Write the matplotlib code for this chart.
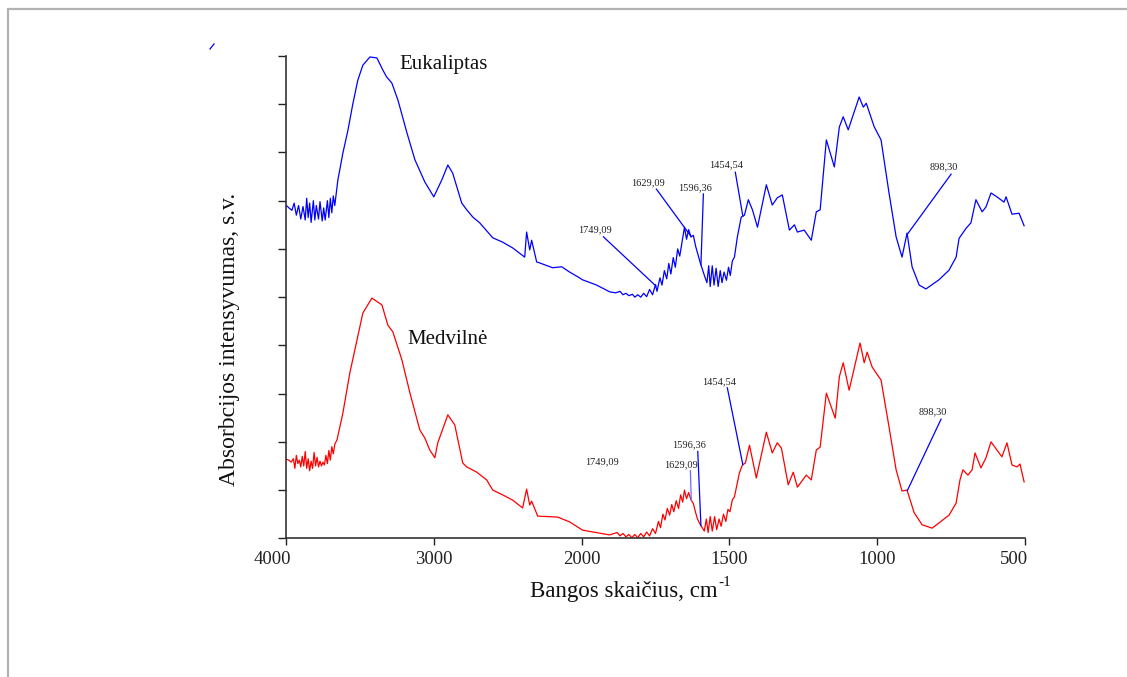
import numpy as np
import matplotlib
matplotlib.use("Agg")
import matplotlib.pyplot as plt
import matplotlib.transforms as mtransforms
from matplotlib.lines import Line2D
from matplotlib.patches import Rectangle

plt.rcParams['font.family'] = ['Liberation Serif', 'DejaVu Serif']

# ---------------- data ----------------
eu_wn = [4000, 3980, 3960, 3945, 3930, 3915, 3900, 3885, 3870, 3860, 3850, 3840, 3830, 3815,
         3805, 3795, 3780, 3770, 3755, 3745, 3735, 3720, 3710, 3700, 3690, 3680, 3670,
         3649, 3615, 3581, 3547, 3514, 3480, 3432, 3385, 3345, 3320, 3284, 3243, 3182, 3128,
         3061, 3000, 2946, 2905, 2872, 2811, 2777, 2736, 2689, 2601, 2534, 2466, 2385, 2372,
         2351, 2338, 2304, 2284, 2196, 2135, 2081, 2014, 1997, 1949,
         1905, 1885, 1870, 1860, 1850, 1840, 1828, 1820, 1810, 1800, 1790, 1780, 1770, 1760,
         1750, 1745, 1735, 1728, 1720, 1712, 1705, 1698, 1690, 1683, 1675, 1668, 1660, 1652,
         1645, 1638, 1630, 1622, 1614, 1605, 1598, 1590, 1583, 1576, 1570, 1565, 1558, 1552,
         1545, 1538, 1531, 1525, 1518, 1510, 1503, 1497, 1490, 1483,
         1473, 1460, 1449, 1436, 1422, 1405, 1375, 1355, 1338, 1321, 1297, 1280, 1270, 1247,
         1223, 1206, 1193, 1172, 1145, 1128, 1115, 1098, 1061, 1047, 1037, 1010, 987, 960,
         936, 916, 899, 882, 858, 835, 791, 757, 733, 723, 699, 683, 666, 645, 632, 615,
         595, 571, 564, 544, 520, 503]
eu_abs = [6.91, 6.85, 6.80, 6.95, 6.70, 6.90, 6.62, 6.88, 6.60, 7.05, 6.65, 6.95, 6.55, 7.00,
          6.60, 6.90, 6.62, 6.98, 6.58, 6.85, 6.60, 7.00, 6.65, 7.05, 6.75, 7.10, 6.90,
          7.43, 7.99, 8.46, 9.02, 9.50, 9.81, 9.98, 9.96, 9.71, 9.57, 9.44, 9.09, 8.41, 7.85,
          7.39, 7.08, 7.43, 7.74, 7.57, 6.95, 6.81, 6.66, 6.54, 6.23, 6.14, 6.02, 5.83, 6.35,
          5.98, 6.18, 5.73, 5.71, 5.61, 5.63, 5.52, 5.40, 5.36, 5.25,
          5.11, 5.09, 5.12, 5.05, 5.08, 5.03, 5.06, 5.00, 5.05, 5.00, 5.08, 5.01, 5.16, 5.05,
          5.26, 5.12, 5.40, 5.25, 5.55, 5.38, 5.70, 5.48, 5.82, 5.62, 6.00, 5.85, 6.15, 6.45,
          6.20, 6.40, 6.25, 6.28, 6.05, 5.85, 5.70, 5.55, 5.42, 5.30, 5.65, 5.22, 5.65, 5.25,
          5.60, 5.22, 5.55, 5.30, 5.52, 5.35, 5.62, 5.45, 5.75, 5.83,
          6.25, 6.66, 6.70, 7.02, 6.81, 6.45, 7.33, 6.91, 7.06, 7.12, 6.39, 6.50, 6.35, 6.39,
          6.18, 6.77, 6.81, 8.26, 7.70, 8.53, 8.74, 8.47, 9.15, 8.94, 9.02, 8.53, 8.26, 7.16,
          6.25, 5.83, 6.33, 5.63, 5.25, 5.17, 5.36, 5.56, 5.83, 6.22, 6.43, 6.54, 7.02, 6.77,
          6.87, 7.16, 7.08, 6.97, 7.08, 6.72, 6.74, 6.48]

med_wn = [4000, 3980, 3965, 3950, 3940, 3930, 3920, 3910, 3900, 3890, 3880, 3870, 3860, 3850,
          3840, 3830, 3820, 3810, 3800, 3790, 3780, 3770, 3760, 3750, 3740, 3730, 3720, 3710,
          3700, 3690, 3680, 3670,
          3655, 3615, 3568, 3520, 3480, 3419, 3351, 3311, 3277, 3216, 3162, 3095, 3061, 3027,
          2993, 2973, 2905, 2858, 2804, 2777, 2709, 2642, 2601, 2534, 2466, 2399, 2372, 2351,
          2338, 2297, 2162, 2081, 1997,
          1905, 1880, 1870, 1860, 1850, 1840, 1830, 1820, 1810, 1800, 1790, 1780, 1770, 1760,
          1750, 1740, 1733, 1725, 1718, 1710, 1702, 1695, 1688, 1680, 1672, 1665, 1658, 1652,
          1645, 1638, 1630, 1622, 1615, 1608, 1600, 1592, 1585, 1578, 1572, 1565, 1558, 1550,
          1543, 1535, 1528, 1520, 1512, 1505, 1498, 1490, 1483,
          1466, 1456, 1446, 1432, 1409, 1375, 1355, 1338, 1324, 1301, 1284, 1270, 1240, 1223,
          1206, 1193, 1172, 1142, 1128, 1115, 1095, 1058, 1044, 1034, 1017, 987, 960, 936,
          916, 899, 875, 848, 814, 791, 757, 733, 720, 710, 693, 679, 669, 649, 632, 615,
          595, 578, 561, 544, 527, 517, 503]
med_abs = [1.64, 1.62, 1.58, 1.65, 1.45, 1.72, 1.55, 1.62, 1.48, 1.70, 1.50, 1.80, 1.45, 1.65,
           1.40, 1.60, 1.45, 1.78, 1.50, 1.68, 1.48, 1.60, 1.50, 1.58, 1.52, 1.72, 1.55, 1.82,
           1.62, 1.90, 1.75, 1.95,
           2.04, 2.60, 3.43, 4.11, 4.67, 4.98, 4.84, 4.42, 4.28, 3.70, 3.02, 2.25, 2.08, 1.83,
           1.67, 1.98, 2.56, 2.35, 1.56, 1.48, 1.37, 1.21, 1.00, 0.90, 0.79, 0.63, 1.02, 0.69,
           0.77, 0.46, 0.44, 0.34, 0.17,
           0.07, 0.12, 0.05, 0.10, 0.03, 0.08, 0.01, 0.08, 0.01, 0.10, 0.03, 0.13, 0.05, 0.20,
           0.10, 0.35, 0.22, 0.50, 0.38, 0.62, 0.48, 0.70, 0.55, 0.78, 0.62, 0.90, 0.75, 1.00,
           0.82, 0.95, 0.80, 0.72, 0.55, 0.40, 0.30, 0.22, 0.15, 0.40, 0.12, 0.45, 0.15, 0.45,
           0.18, 0.40, 0.25, 0.50, 0.35, 0.60, 0.55, 0.80, 0.86,
           1.36, 1.52, 1.56, 1.93, 1.25, 2.20, 1.77, 1.98, 1.87, 1.11, 1.37, 1.06, 1.31, 1.21,
           1.83, 1.89, 3.01, 2.49, 3.35, 3.64, 3.07, 4.05, 3.64, 3.86, 3.55, 3.28, 2.31, 1.42,
           0.98, 1.00, 0.53, 0.28, 0.21, 0.32, 0.48, 0.73, 1.21, 1.42, 1.31, 1.42, 1.77, 1.46,
           1.67, 2.00, 1.83, 1.69, 1.98, 1.52, 1.48, 1.54, 1.17]

x_ticks = [4000, 3000, 2000, 1500, 1000, 500]
x_tick_labels = ["4000", "3000", "2000", "1500", "1000", "500"]
y_ticks = list(range(0, 11))

ann_labels = ["1749,09", "1629,09", "1596,36", "1454,54", "898,30"]
ann_peaks = [1749.09, 1629.09, 1596.36, 1454.54, 898.30]
eu_text_x = [1953, 1777, 1615, 1510, 774]
eu_text_y = [6.39, 7.37, 7.27, 7.74, 7.70]
eu_line_x0 = [1926, 1747, 1588, 1480, 750]
eu_line_y0 = [6.25, 7.24, 7.14, 7.59, 7.55]
med_text_x = [1932, 1662, 1635, 1534, 811]
med_text_y = [1.58, 1.52, 1.93, 3.24, 2.62]
med_line_x0 = [None, 1632, 1607, 1507, 784]
med_line_y0 = [None, 1.40, 1.80, 3.12, 2.47]
med_line_colors = [None, '#6a6aff', '#0000ff', '#0000ff', '#0000ff']

# ---------------- figure ----------------
W, H = 1127, 677
fig = plt.figure(figsize=(W / 100, H / 100), dpi=100)
fig.patch.set_facecolor('white')

# outer grey frame
fig.add_artist(Rectangle((8 / W, -0.05), 1.2, 1 - 9 / H + 0.05, transform=fig.transFigure,
                         fill=False, edgecolor='#b2b2b2', linewidth=1.6))
# stray small blue tick
fig.add_artist(Line2D([210 / W, 214 / W], [1 - 49 / H, 1 - 44 / H], transform=fig.transFigure,
                      color='#0000ff', linewidth=0.9))

ax = fig.add_axes([286 / W, 1 - 538.3 / H, (1025 - 286) / W, (538.3 - 56) / H])


def fwd(x):
    x = np.asarray(x, dtype=float)
    return np.where(x > 2000, 2000 + (x - 2000) / 2.0, x)


def inv(t):
    t = np.asarray(t, dtype=float)
    return np.where(t > 2000, 2000 + (t - 2000) * 2.0, t)


ax.set_xscale('function', functions=(fwd, inv))
ax.set_xlim(4000, 500)
ax.set_ylim(0, 10)

ax.plot(eu_wn, eu_abs, color='#0000ff', linewidth=0.9)
ax.plot(med_wn, med_abs, color='#ff0000', linewidth=0.9)

ax.set_xticks(x_ticks)
ax.set_xticklabels(x_tick_labels)
ax.set_yticks(y_ticks)
ax.set_yticklabels([])
ax.minorticks_off()
ax.tick_params(axis='x', direction='out', length=5, width=1.0, labelsize=13.5, pad=4,
               colors='#222222')
ax.tick_params(axis='y', direction='out', length=6, width=1.0, colors='#222222')
for s in ['top', 'right']:
    ax.spines[s].set_visible(False)
for s in ['left', 'bottom']:
    ax.spines[s].set_color('#333333')
    ax.spines[s].set_linewidth(1.2)

# first and last tick labels sit slightly left of their ticks in the reference
xt_labels = ax.get_xticklabels()
for idx, dx_px in ((0, -13.5), (len(xt_labels) - 1, -11.5)):
    off = mtransforms.ScaledTranslation(dx_px / 100, 0, fig.dpi_scale_trans)
    xt_labels[idx].set_transform(xt_labels[idx].get_transform() + off)

ax.set_xlabel("Bangos skaičius, cm", fontsize=16.5, color='#111111')
ax.xaxis.set_label_coords(0.4568, -0.0885)
xl = ax.xaxis.label
fig.canvas.draw()
bb = xl.get_window_extent()
fig.text((bb.x1 + 1) / W, (bb.y1 + 5) / H, "-1", fontsize=11, ha='left', va='top',
         color='#111111')

ax.set_ylabel("Absorbcijos intensyvumas, s.v.", fontsize=17, color='#111111')
ax.yaxis.set_label_coords(-0.062, 0.413)

ax.text(3236, 9.82, "Eukaliptas", fontsize=15, ha='left', va='center', color='#111111')
ax.text(3176, 4.12, "Medvilnė", fontsize=15, ha='left', va='center', color='#111111')

eu_rev_x = np.array(eu_wn[::-1], dtype=float)
eu_rev_y = np.array(eu_abs[::-1], dtype=float)
med_rev_x = np.array(med_wn[::-1], dtype=float)
med_rev_y = np.array(med_abs[::-1], dtype=float)

for i, lab in enumerate(ann_labels):
    pk = ann_peaks[i]
    ax.text(eu_text_x[i], eu_text_y[i], lab, fontsize=7.5, ha='center', va='center',
            color='#222222')
    ax.plot([eu_line_x0[i], pk], [eu_line_y0[i], np.interp(pk, eu_rev_x, eu_rev_y)],
            color='#0000ff', linewidth=0.9)
    ax.text(med_text_x[i], med_text_y[i], lab, fontsize=7.5, ha='center', va='center',
            color='#222222')
    if med_line_x0[i] is not None:
        ax.plot([med_line_x0[i], pk], [med_line_y0[i], np.interp(pk, med_rev_x, med_rev_y)],
                color=med_line_colors[i], linewidth=0.9)

fig.savefig("out.png", dpi=100, facecolor='white')
